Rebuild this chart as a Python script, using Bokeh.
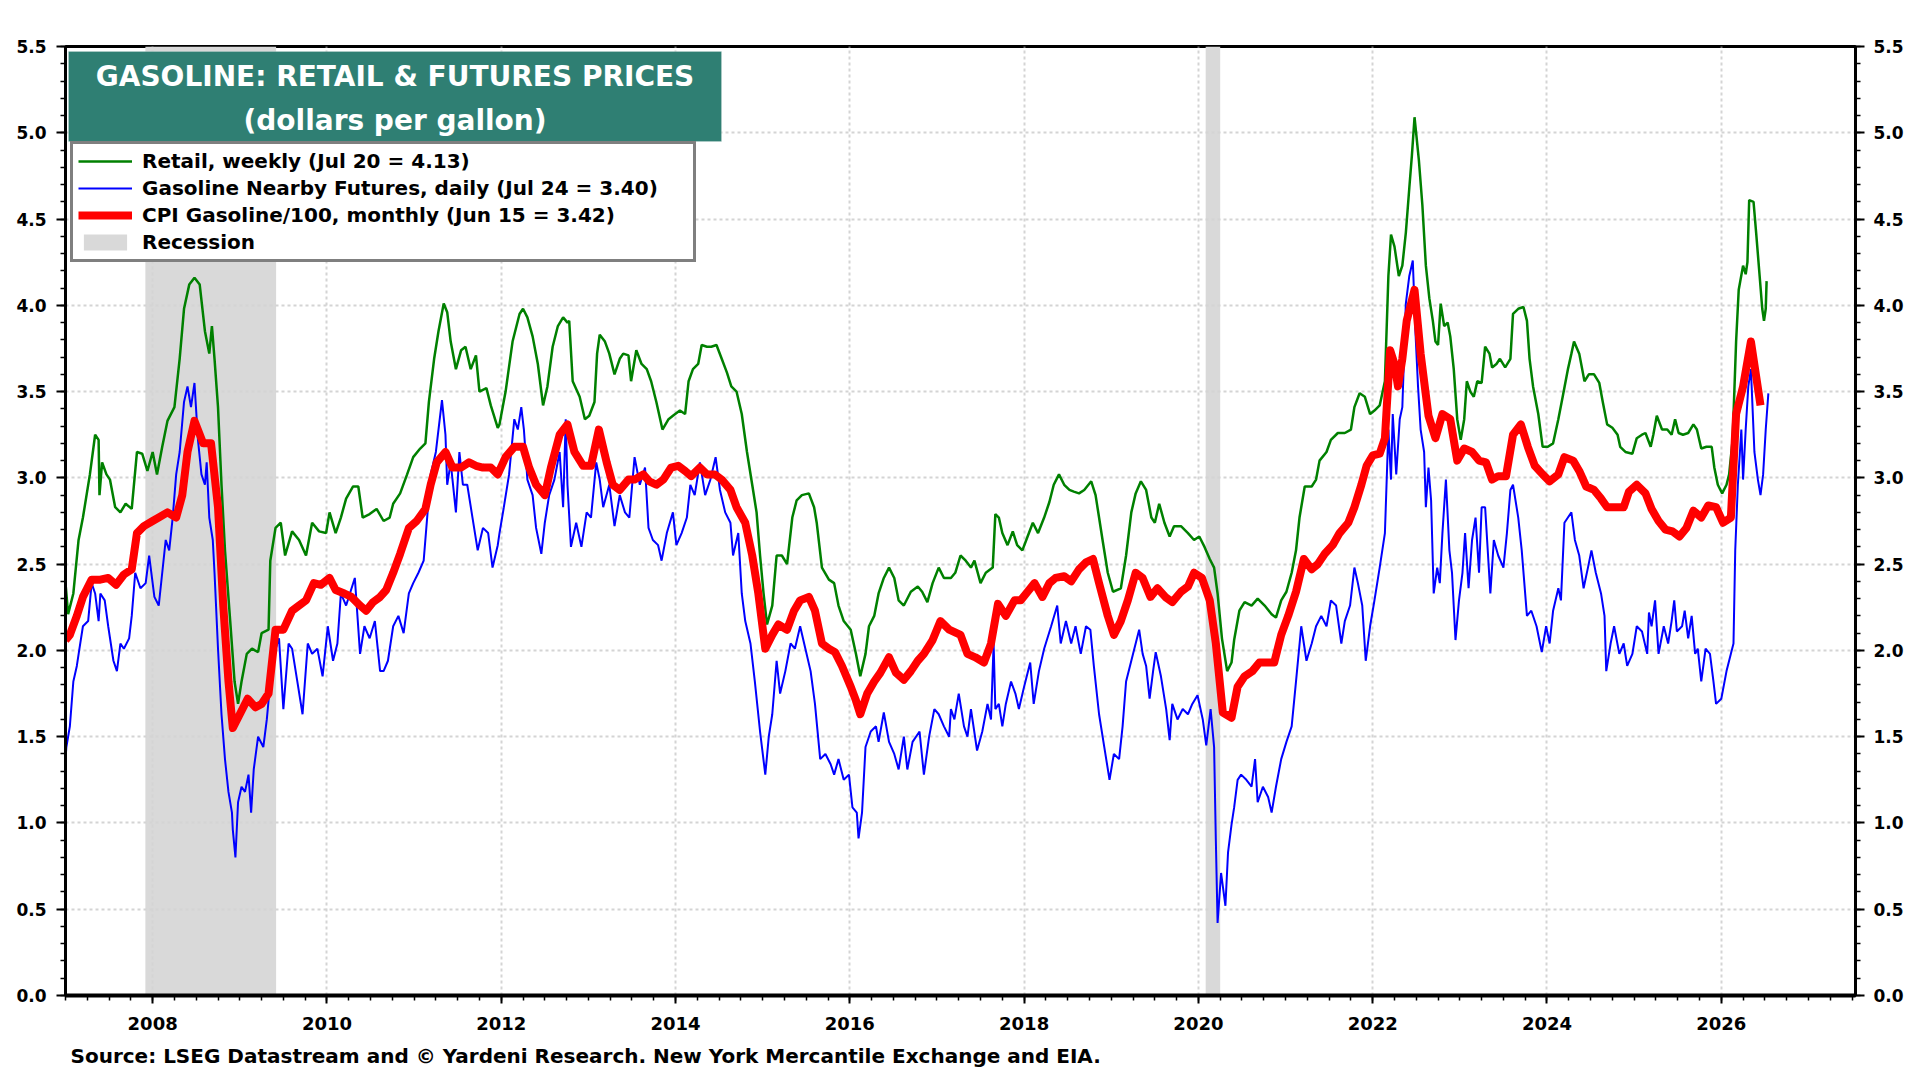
from bokeh.plotting import figure
from bokeh.models import (FixedTicker, NumeralTickFormatter, LinearAxis, BoxAnnotation,
                          Label, Legend, LegendItem, Title)
from bokeh.embed import file_html
from bokeh.resources import INLINE

# ---------------- data (decimal year, dollars per gallon) ----------------
RETAIL_WEEKLY = [
    (2007.00, 2.39), (2007.03, 2.21), (2007.09, 2.33), (2007.15, 2.64), (2007.20, 2.77), (2007.28, 3.02),
    (2007.34, 3.25), (2007.38, 3.22), (2007.39, 2.90), (2007.42, 3.09), (2007.47, 3.02), (2007.51, 2.99),
    (2007.57, 2.83), (2007.63, 2.80), (2007.69, 2.85), (2007.76, 2.82), (2007.82, 3.15), (2007.88, 3.14),
    (2007.94, 3.04), (2008.00, 3.15), (2008.05, 3.02), (2008.11, 3.18), (2008.17, 3.33), (2008.25, 3.41),
    (2008.31, 3.69), (2008.36, 3.98), (2008.42, 4.12), (2008.48, 4.16), (2008.54, 4.12), (2008.60, 3.85),
    (2008.65, 3.72), (2008.68, 3.88), (2008.71, 3.69), (2008.75, 3.41), (2008.79, 2.96), (2008.83, 2.58),
    (2008.89, 2.17), (2008.94, 1.82), (2008.98, 1.69), (2009.02, 1.82), (2009.08, 1.98), (2009.14, 2.01),
    (2009.21, 1.99), (2009.25, 2.10), (2009.33, 2.12), (2009.35, 2.52), (2009.41, 2.71), (2009.47, 2.74),
    (2009.52, 2.55), (2009.60, 2.69), (2009.68, 2.64), (2009.76, 2.55), (2009.83, 2.74), (2009.91, 2.69),
    (2009.99, 2.68), (2010.03, 2.80), (2010.10, 2.68), (2010.16, 2.77), (2010.22, 2.88), (2010.30, 2.95),
    (2010.36, 2.95), (2010.41, 2.77), (2010.49, 2.79), (2010.57, 2.82), (2010.65, 2.75), (2010.72, 2.77),
    (2010.76, 2.85), (2010.84, 2.91), (2010.92, 3.02), (2010.99, 3.12), (2011.07, 3.17), (2011.13, 3.20),
    (2011.17, 3.44), (2011.23, 3.69), (2011.28, 3.85), (2011.34, 4.01), (2011.38, 3.96), (2011.42, 3.79),
    (2011.48, 3.63), (2011.54, 3.74), (2011.59, 3.76), (2011.65, 3.63), (2011.71, 3.71), (2011.75, 3.50),
    (2011.83, 3.52), (2011.88, 3.42), (2011.96, 3.29),
    (2011.98, 3.31), (2012.05, 3.50), (2012.13, 3.79), (2012.21, 3.95), (2012.25, 3.98), (2012.30, 3.93),
    (2012.36, 3.82), (2012.42, 3.66), (2012.48, 3.42), (2012.53, 3.53), (2012.59, 3.76), (2012.65, 3.88),
    (2012.71, 3.93), (2012.76, 3.90), (2012.78, 3.91), (2012.82, 3.56), (2012.90, 3.47), (2012.96, 3.34),
    (2013.01, 3.36), (2013.07, 3.44), (2013.10, 3.72), (2013.13, 3.83), (2013.19, 3.79), (2013.24, 3.72),
    (2013.30, 3.60), (2013.36, 3.69), (2013.40, 3.72), (2013.46, 3.71), (2013.49, 3.56), (2013.55, 3.74),
    (2013.61, 3.66), (2013.67, 3.63), (2013.72, 3.56), (2013.78, 3.44), (2013.85, 3.28), (2013.92, 3.34),
    (2013.97, 3.36), (2014.05, 3.39), (2014.11, 3.37), (2014.15, 3.56), (2014.20, 3.63), (2014.26, 3.66),
    (2014.30, 3.77), (2014.36, 3.76), (2014.41, 3.76), (2014.47, 3.77), (2014.53, 3.69), (2014.59, 3.61),
    (2014.64, 3.53), (2014.70, 3.50), (2014.76, 3.37), (2014.82, 3.15), (2014.88, 2.96), (2014.93, 2.80),
    (2014.97, 2.55), (2015.01, 2.33), (2015.05, 2.15), (2015.11, 2.26), (2015.16, 2.55), (2015.22, 2.55),
    (2015.28, 2.50), (2015.34, 2.77), (2015.39, 2.87), (2015.45, 2.90), (2015.53, 2.91), (2015.59, 2.83),
    (2015.62, 2.74), (2015.68, 2.48), (2015.76, 2.41), (2015.82, 2.39), (2015.87, 2.26), (2015.93, 2.17),
    (2016.01, 2.12), (2016.07, 1.98), (2016.12, 1.85), (2016.18, 1.98), (2016.22, 2.14), (2016.28, 2.20),
    (2016.33, 2.33), (2016.39, 2.42), (2016.45, 2.48), (2016.51, 2.42), (2016.56, 2.29), (2016.62, 2.26),
    (2016.70, 2.34), (2016.78, 2.37), (2016.83, 2.34), (2016.89, 2.28), (2016.95, 2.39), (2017.02, 2.48),
    (2017.08, 2.42),
    (2017.16, 2.42), (2017.21, 2.45), (2017.27, 2.55), (2017.33, 2.52), (2017.39, 2.48), (2017.43, 2.52),
    (2017.50, 2.39), (2017.56, 2.45), (2017.64, 2.48), (2017.67, 2.79), (2017.71, 2.77), (2017.75, 2.68),
    (2017.81, 2.61), (2017.87, 2.69), (2017.92, 2.61), (2017.98, 2.58), (2018.04, 2.66), (2018.10, 2.74),
    (2018.16, 2.68), (2018.23, 2.77), (2018.29, 2.86), (2018.34, 2.96), (2018.40, 3.02), (2018.46, 2.96),
    (2018.52, 2.93), (2018.57, 2.92), (2018.63, 2.91), (2018.69, 2.93), (2018.77, 2.98), (2018.82, 2.90),
    (2018.86, 2.77), (2018.90, 2.64), (2018.96, 2.45), (2019.02, 2.34), (2019.11, 2.36), (2019.17, 2.55),
    (2019.23, 2.80), (2019.28, 2.91), (2019.34, 2.98), (2019.40, 2.93), (2019.46, 2.77), (2019.50, 2.74),
    (2019.55, 2.85), (2019.61, 2.74), (2019.67, 2.66), (2019.72, 2.72), (2019.80, 2.72), (2019.88, 2.68),
    (2019.95, 2.64), (2020.01, 2.66), (2020.07, 2.60), (2020.13, 2.53), (2020.18, 2.48), (2020.22, 2.33),
    (2020.27, 2.07), (2020.33, 1.88), (2020.38, 1.93), (2020.41, 2.06), (2020.47, 2.23), (2020.53, 2.28),
    (2020.61, 2.26), (2020.68, 2.30), (2020.76, 2.26), (2020.84, 2.21), (2020.89, 2.19), (2020.95, 2.29),
    (2021.01, 2.34), (2021.07, 2.45), (2021.12, 2.58), (2021.16, 2.77), (2021.22, 2.95), (2021.30, 2.95),
    (2021.35, 2.99), (2021.39, 3.10), (2021.47, 3.15), (2021.52, 3.22), (2021.60, 3.26), (2021.68, 3.26),
    (2021.75, 3.28), (2021.79, 3.41), (2021.85, 3.49), (2021.91, 3.47), (2021.97, 3.37), (2022.02, 3.39),
    (2022.08, 3.42), (2022.14, 3.56), (2022.18, 4.17), (2022.21, 4.41), (2022.25, 4.34), (2022.30, 4.17),
    (2022.34, 4.23), (2022.38, 4.42), (2022.42, 4.68), (2022.45, 4.87), (2022.48, 5.09), (2022.50, 4.99),
    (2022.53, 4.84), (2022.57, 4.58), (2022.61, 4.23), (2022.65, 4.04), (2022.69, 3.91), (2022.72, 3.79),
    (2022.75, 3.77), (2022.78, 4.01), (2022.82, 3.88), (2022.86, 3.90), (2022.89, 3.82), (2022.93, 3.63),
    (2022.97, 3.34), (2023.01, 3.22), (2023.05, 3.34), (2023.08, 3.56), (2023.12, 3.50), (2023.16, 3.47),
    (2023.20, 3.56), (2023.25, 3.55), (2023.29, 3.76), (2023.34, 3.72), (2023.37, 3.64), (2023.42, 3.66),
    (2023.46, 3.69), (2023.52, 3.64), (2023.58, 3.69), (2023.61, 3.95), (2023.67, 3.98), (2023.73, 3.99),
    (2023.77, 3.91), (2023.80, 3.69), (2023.84, 3.53), (2023.90, 3.37), (2023.95, 3.18), (2024.01, 3.18),
    (2024.07, 3.20), (2024.13, 3.34), (2024.18, 3.47), (2024.24, 3.63), (2024.28, 3.72), (2024.31, 3.79),
    (2024.37, 3.72), (2024.43, 3.56), (2024.48, 3.60), (2024.54, 3.60), (2024.60, 3.55), (2024.64, 3.44),
    (2024.69, 3.31), (2024.75, 3.29), (2024.81, 3.25), (2024.84, 3.18), (2024.90, 3.15), (2024.98, 3.14),
    (2025.03, 3.23), (2025.09, 3.25), (2025.13, 3.26), (2025.19, 3.18), (2025.22, 3.25), (2025.26, 3.36),
    (2025.32, 3.28), (2025.38, 3.28), (2025.43, 3.25), (2025.47, 3.34), (2025.51, 3.26), (2025.56, 3.25),
    (2025.62, 3.26), (2025.68, 3.31), (2025.72, 3.28), (2025.77, 3.17), (2025.83, 3.18), (2025.89, 3.18),
    (2025.92, 3.06), (2025.96, 2.96), (2026.01, 2.91), (2026.06, 2.96), (2026.09, 3.02), (2026.13, 3.22),
    (2026.17, 3.79), (2026.20, 4.09), (2026.25, 4.23), (2026.28, 4.18), (2026.30, 4.25), (2026.32, 4.61),
    (2026.37, 4.60), (2026.40, 4.42), (2026.44, 4.17), (2026.47, 3.98), (2026.49, 3.91), (2026.51, 3.98),
    (2026.52, 4.14),
]

FUTURES_DAILY = [
    (2007.00, 1.37), (2007.01, 1.44), (2007.05, 1.56), (2007.09, 1.82), (2007.13, 1.91), (2007.16, 2.01),
    (2007.20, 2.14), (2007.26, 2.17), (2007.30, 2.39), (2007.34, 2.33), (2007.38, 2.17), (2007.40, 2.33),
    (2007.45, 2.29), (2007.49, 2.14), (2007.55, 1.94), (2007.59, 1.88), (2007.63, 2.04), (2007.67, 2.01),
    (2007.73, 2.07), (2007.76, 2.20), (2007.80, 2.45), (2007.86, 2.36), (2007.92, 2.39), (2007.96, 2.55),
    (2008.02, 2.31), (2008.07, 2.26), (2008.11, 2.45), (2008.15, 2.64), (2008.19, 2.58), (2008.23, 2.77),
    (2008.27, 3.02), (2008.31, 3.15), (2008.36, 3.44), (2008.40, 3.53), (2008.44, 3.41), (2008.48, 3.55),
    (2008.52, 3.22), (2008.56, 3.02), (2008.60, 2.96), (2008.62, 3.09), (2008.65, 2.77), (2008.69, 2.64),
    (2008.71, 2.45), (2008.75, 2.01), (2008.79, 1.63), (2008.83, 1.37), (2008.87, 1.18), (2008.91, 1.06),
    (2008.92, 0.96), (2008.95, 0.80), (2008.98, 1.12), (2009.02, 1.21), (2009.06, 1.18), (2009.10, 1.28),
    (2009.13, 1.06), (2009.16, 1.31), (2009.21, 1.50), (2009.27, 1.44), (2009.31, 1.60), (2009.35, 1.82),
    (2009.41, 2.01), (2009.45, 2.07), (2009.50, 1.66), (2009.56, 2.04), (2009.60, 2.01), (2009.66, 1.82),
    (2009.72, 1.63), (2009.78, 2.04), (2009.83, 1.98), (2009.89, 2.01), (2009.95, 1.85), (2010.01, 2.14),
    (2010.07, 1.94), (2010.12, 2.04), (2010.16, 2.33), (2010.22, 2.26), (2010.32, 2.42), (2010.38, 1.98),
    (2010.43, 2.14), (2010.49, 2.07), (2010.55, 2.17), (2010.61, 1.88), (2010.65, 1.88), (2010.70, 1.94),
    (2010.76, 2.14), (2010.82, 2.20), (2010.88, 2.10), (2010.94, 2.33), (2010.99, 2.39), (2011.05, 2.45),
    (2011.11, 2.52), (2011.15, 2.77), (2011.19, 3.02), (2011.25, 3.15), (2011.28, 3.28), (2011.32, 3.45),
    (2011.36, 3.25), (2011.38, 2.96), (2011.42, 3.09), (2011.48, 2.80), (2011.52, 3.15), (2011.56, 2.96),
    (2011.61, 2.96), (2011.67, 2.77), (2011.73, 2.58), (2011.79, 2.71), (2011.85, 2.68), (2011.90, 2.48),
    (2011.96, 2.61),
    (2011.98, 2.68), (2012.03, 2.83), (2012.09, 3.02), (2012.15, 3.34), (2012.19, 3.28), (2012.23, 3.41),
    (2012.26, 3.28), (2012.30, 2.99), (2012.36, 2.90), (2012.40, 2.71), (2012.46, 2.56), (2012.50, 2.74),
    (2012.55, 2.90), (2012.61, 2.99), (2012.67, 3.15), (2012.71, 2.83), (2012.74, 3.34), (2012.76, 2.96),
    (2012.80, 2.60), (2012.86, 2.74), (2012.92, 2.60), (2012.98, 2.80), (2013.03, 2.77), (2013.09, 3.09),
    (2013.13, 2.99), (2013.17, 2.83), (2013.24, 2.96), (2013.30, 2.72), (2013.36, 2.90), (2013.42, 2.80),
    (2013.47, 2.77), (2013.53, 3.12), (2013.59, 2.96), (2013.65, 3.06), (2013.69, 2.71), (2013.74, 2.64),
    (2013.80, 2.61), (2013.84, 2.52), (2013.90, 2.68), (2013.97, 2.80), (2014.01, 2.61), (2014.07, 2.68),
    (2014.13, 2.77), (2014.17, 2.96), (2014.22, 2.90), (2014.28, 3.09), (2014.34, 2.90), (2014.40, 2.99),
    (2014.46, 3.12), (2014.51, 2.93), (2014.57, 2.80), (2014.63, 2.74), (2014.66, 2.55), (2014.72, 2.68),
    (2014.76, 2.33), (2014.80, 2.17), (2014.86, 2.04), (2014.91, 1.82), (2014.97, 1.53), (2015.03, 1.28),
    (2015.07, 1.50), (2015.11, 1.63), (2015.16, 1.94), (2015.20, 1.75), (2015.26, 1.88), (2015.32, 2.04),
    (2015.37, 2.01), (2015.43, 2.14), (2015.49, 2.01), (2015.55, 1.88), (2015.60, 1.69), (2015.66, 1.37),
    (2015.72, 1.40), (2015.78, 1.34), (2015.82, 1.28), (2015.87, 1.37), (2015.93, 1.25), (2015.99, 1.28),
    (2016.03, 1.09), (2016.08, 1.06), (2016.10, 0.91), (2016.14, 1.06), (2016.18, 1.44), (2016.24, 1.53),
    (2016.30, 1.56), (2016.33, 1.47), (2016.39, 1.64), (2016.45, 1.47), (2016.51, 1.40), (2016.56, 1.31),
    (2016.62, 1.50), (2016.66, 1.31), (2016.72, 1.47), (2016.80, 1.53), (2016.85, 1.28), (2016.91, 1.50),
    (2016.97, 1.66), (2017.02, 1.63), (2017.08, 1.56), (2017.14, 1.50),
    (2017.16, 1.66), (2017.20, 1.60), (2017.25, 1.75), (2017.31, 1.56), (2017.35, 1.50), (2017.39, 1.66),
    (2017.46, 1.42), (2017.52, 1.53), (2017.58, 1.69), (2017.62, 1.60), (2017.65, 2.04), (2017.67, 1.66),
    (2017.71, 1.69), (2017.75, 1.56), (2017.79, 1.69), (2017.85, 1.82), (2017.90, 1.75), (2017.94, 1.66),
    (2018.00, 1.79), (2018.07, 1.93), (2018.11, 1.69), (2018.17, 1.88), (2018.23, 2.01), (2018.31, 2.14),
    (2018.38, 2.26), (2018.42, 2.04), (2018.48, 2.17), (2018.54, 2.04), (2018.59, 2.14), (2018.65, 1.98),
    (2018.71, 2.14), (2018.76, 2.12), (2018.80, 1.91), (2018.86, 1.63), (2018.92, 1.44), (2018.98, 1.25),
    (2019.03, 1.40), (2019.09, 1.37), (2019.13, 1.56), (2019.17, 1.82), (2019.23, 1.94), (2019.28, 2.04),
    (2019.32, 2.12), (2019.36, 1.98), (2019.40, 1.91), (2019.44, 1.72), (2019.48, 1.88), (2019.51, 1.99),
    (2019.57, 1.85), (2019.63, 1.66), (2019.67, 1.48), (2019.70, 1.69), (2019.76, 1.60), (2019.82, 1.66),
    (2019.88, 1.63), (2019.93, 1.69), (2019.99, 1.74), (2020.05, 1.60), (2020.09, 1.45), (2020.14, 1.66),
    (2020.18, 1.44), (2020.20, 0.90), (2020.22, 0.42), (2020.26, 0.71), (2020.31, 0.52), (2020.34, 0.83),
    (2020.38, 0.99), (2020.41, 1.09), (2020.45, 1.25), (2020.49, 1.28), (2020.55, 1.25), (2020.61, 1.21),
    (2020.65, 1.37), (2020.68, 1.12), (2020.74, 1.21), (2020.80, 1.15), (2020.84, 1.06), (2020.89, 1.21),
    (2020.95, 1.37), (2021.01, 1.47), (2021.07, 1.56), (2021.12, 1.82), (2021.18, 2.14), (2021.24, 1.94),
    (2021.30, 2.04), (2021.35, 2.14), (2021.41, 2.20), (2021.47, 2.14), (2021.52, 2.29), (2021.58, 2.26),
    (2021.64, 2.04), (2021.68, 2.17), (2021.74, 2.26), (2021.79, 2.48), (2021.83, 2.39), (2021.88, 2.26),
    (2021.92, 1.94), (2021.97, 2.14), (2022.02, 2.29), (2022.08, 2.48), (2022.14, 2.68), (2022.18, 3.28),
    (2022.21, 2.99), (2022.23, 3.37), (2022.27, 3.02), (2022.31, 3.34),
    (2022.34, 3.41), (2022.38, 4.01), (2022.42, 4.17), (2022.46, 4.26), (2022.49, 3.85), (2022.52, 3.53),
    (2022.55, 3.28), (2022.59, 3.15), (2022.61, 2.83), (2022.64, 3.06), (2022.67, 2.87), (2022.70, 2.33),
    (2022.74, 2.48), (2022.77, 2.39), (2022.80, 2.68), (2022.84, 2.99), (2022.88, 2.58), (2022.91, 2.45),
    (2022.95, 2.06), (2022.99, 2.29), (2023.03, 2.45), (2023.06, 2.68), (2023.10, 2.36), (2023.14, 2.64),
    (2023.18, 2.77), (2023.22, 2.45), (2023.25, 2.83), (2023.29, 2.83), (2023.35, 2.33), (2023.39, 2.64),
    (2023.44, 2.55), (2023.50, 2.48), (2023.54, 2.68), (2023.58, 2.93), (2023.61, 2.96), (2023.67, 2.77),
    (2023.71, 2.58), (2023.77, 2.20), (2023.82, 2.23), (2023.88, 2.14), (2023.94, 1.99), (2023.99, 2.14),
    (2024.03, 2.04), (2024.07, 2.23), (2024.13, 2.36), (2024.16, 2.29), (2024.20, 2.74), (2024.24, 2.77),
    (2024.28, 2.80), (2024.32, 2.64), (2024.37, 2.55), (2024.42, 2.36), (2024.47, 2.48), (2024.51, 2.58),
    (2024.56, 2.45), (2024.62, 2.33), (2024.66, 2.20), (2024.68, 1.88), (2024.73, 2.04), (2024.77, 2.14),
    (2024.83, 1.98), (2024.88, 2.04), (2024.92, 1.91), (2024.98, 1.98), (2025.03, 2.14), (2025.09, 2.11),
    (2025.15, 1.98), (2025.17, 2.22), (2025.20, 2.14), (2025.24, 2.29), (2025.28, 1.98), (2025.34, 2.14),
    (2025.39, 2.04), (2025.43, 2.17), (2025.46, 2.29), (2025.49, 2.11), (2025.55, 2.14), (2025.58, 2.23),
    (2025.62, 2.07), (2025.66, 2.20), (2025.70, 1.98), (2025.73, 2.01), (2025.77, 1.82), (2025.82, 2.01),
    (2025.87, 1.98), (2025.91, 1.82), (2025.94, 1.69), (2026.00, 1.72), (2026.06, 1.88), (2026.11, 1.98),
    (2026.14, 2.04), (2026.16, 2.58), (2026.19, 2.96), (2026.23, 3.28), (2026.25, 2.99), (2026.28, 3.28),
    (2026.31, 3.53), (2026.34, 3.63), (2026.38, 3.15), (2026.42, 2.99), (2026.45, 2.90), (2026.48, 3.02),
    (2026.51, 3.28), (2026.54, 3.49),
]

CPI_MONTHLY = [
    (2007.00, 2.06), (2007.05, 2.09), (2007.13, 2.20), (2007.20, 2.31), (2007.30, 2.41), (2007.40, 2.41),
    (2007.49, 2.42), (2007.58, 2.38), (2007.67, 2.44), (2007.76, 2.47), (2007.82, 2.68), (2007.90, 2.72),
    (2008.00, 2.75), (2008.07, 2.77), (2008.17, 2.80), (2008.27, 2.77), (2008.34, 2.90), (2008.40, 3.15),
    (2008.48, 3.33), (2008.58, 3.20), (2008.67, 3.20), (2008.75, 2.83), (2008.81, 2.26), (2008.87, 1.82),
    (2008.92, 1.55), (2009.00, 1.63), (2009.09, 1.72), (2009.18, 1.67), (2009.25, 1.69), (2009.33, 1.75),
    (2009.41, 2.12), (2009.50, 2.12), (2009.60, 2.23), (2009.68, 2.26), (2009.76, 2.29), (2009.85, 2.39),
    (2009.93, 2.38), (2010.03, 2.42), (2010.10, 2.35), (2010.20, 2.33), (2010.28, 2.31), (2010.38, 2.26),
    (2010.45, 2.23), (2010.53, 2.28), (2010.61, 2.31), (2010.68, 2.35), (2010.76, 2.45), (2010.84, 2.56),
    (2010.94, 2.71), (2011.03, 2.75), (2011.13, 2.82), (2011.19, 2.96), (2011.26, 3.09), (2011.36, 3.15),
    (2011.44, 3.06), (2011.54, 3.06), (2011.63, 3.09), (2011.71, 3.07), (2011.79, 3.06), (2011.88, 3.06),
    (2011.96, 3.02), (2012.05, 3.12), (2012.15, 3.18), (2012.25, 3.18), (2012.32, 3.06), (2012.40, 2.96),
    (2012.50, 2.90), (2012.57, 3.06), (2012.67, 3.25), (2012.76, 3.31), (2012.84, 3.15), (2012.94, 3.07),
    (2013.03, 3.07), (2013.12, 3.28), (2013.21, 3.09), (2013.28, 2.96), (2013.36, 2.93), (2013.46, 2.99),
    (2013.53, 2.99), (2013.63, 3.02), (2013.70, 2.98), (2013.78, 2.96), (2013.86, 2.99), (2013.95, 3.06),
    (2014.03, 3.07), (2014.11, 3.04), (2014.18, 3.01), (2014.28, 3.06), (2014.36, 3.02), (2014.45, 3.02),
    (2014.53, 2.99), (2014.63, 2.93), (2014.70, 2.83), (2014.80, 2.74), (2014.88, 2.55), (2014.95, 2.33),
    (2015.03, 2.01), (2015.11, 2.09), (2015.18, 2.15), (2015.28, 2.12), (2015.36, 2.23), (2015.43, 2.29),
    (2015.53, 2.31), (2015.60, 2.23), (2015.68, 2.04), (2015.76, 2.01), (2015.83, 1.99), (2015.91, 1.91),
    (2016.01, 1.79), (2016.07, 1.71), (2016.12, 1.63), (2016.20, 1.75), (2016.28, 1.82), (2016.35, 1.87),
    (2016.45, 1.96), (2016.53, 1.87), (2016.62, 1.83), (2016.70, 1.88), (2016.78, 1.94), (2016.85, 1.98),
    (2016.95, 2.06), (2017.04, 2.17), (2017.14, 2.12), (2017.27, 2.09), (2017.35, 1.98), (2017.44, 1.96),
    (2017.54, 1.93), (2017.62, 2.04), (2017.70, 2.27), (2017.79, 2.20), (2017.89, 2.29), (2017.96, 2.29),
    (2018.04, 2.34), (2018.12, 2.39), (2018.21, 2.31), (2018.29, 2.39), (2018.36, 2.42), (2018.46, 2.43),
    (2018.54, 2.40), (2018.63, 2.47), (2018.71, 2.51), (2018.79, 2.53), (2018.86, 2.39), (2018.96, 2.20),
    (2019.03, 2.09), (2019.11, 2.17), (2019.19, 2.29), (2019.28, 2.45), (2019.36, 2.42), (2019.45, 2.31),
    (2019.53, 2.36), (2019.62, 2.31), (2019.70, 2.28), (2019.80, 2.34), (2019.88, 2.37), (2019.95, 2.45),
    (2020.04, 2.42), (2020.13, 2.29), (2020.20, 2.04), (2020.28, 1.64), (2020.38, 1.61), (2020.45, 1.79),
    (2020.53, 1.85), (2020.62, 1.88), (2020.70, 1.93), (2020.80, 1.93), (2020.87, 1.93), (2020.95, 2.09),
    (2021.03, 2.20), (2021.12, 2.34), (2021.21, 2.53), (2021.30, 2.47), (2021.37, 2.50), (2021.45, 2.56),
    (2021.54, 2.61), (2021.62, 2.68), (2021.72, 2.74), (2021.79, 2.83), (2021.87, 2.96), (2021.93, 3.07),
    (2022.00, 3.13), (2022.08, 3.14), (2022.14, 3.23), (2022.20, 3.74), (2022.25, 3.66), (2022.29, 3.53),
    (2022.34, 3.69), (2022.39, 3.91), (2022.48, 4.09), (2022.55, 3.72), (2022.64, 3.36), (2022.72, 3.23),
    (2022.80, 3.37), (2022.89, 3.34), (2022.97, 3.10), (2023.05, 3.17), (2023.14, 3.15), (2023.22, 3.10),
    (2023.30, 3.09), (2023.37, 2.99), (2023.44, 3.01), (2023.53, 3.01), (2023.61, 3.25), (2023.70, 3.31),
    (2023.78, 3.18), (2023.86, 3.07), (2023.95, 3.02), (2024.03, 2.98), (2024.13, 3.02), (2024.20, 3.12),
    (2024.30, 3.10), (2024.37, 3.04), (2024.45, 2.95), (2024.54, 2.93), (2024.62, 2.88), (2024.69, 2.83),
    (2024.79, 2.83), (2024.88, 2.83), (2024.94, 2.92), (2025.03, 2.96), (2025.13, 2.91), (2025.20, 2.82),
    (2025.28, 2.75), (2025.36, 2.70), (2025.44, 2.69), (2025.52, 2.66), (2025.60, 2.71), (2025.68, 2.81),
    (2025.77, 2.77), (2025.85, 2.84), (2025.94, 2.83), (2026.02, 2.74), (2026.11, 2.77), (2026.17, 3.37),
    (2026.25, 3.53), (2026.34, 3.79), (2026.45, 3.42),
]

RECESSION_START = ["2007-12", "2020-02"]
RECESSION_END = ["2009-06", "2020-04"]

Y_TICKS = [0.0, 0.5, 1.0, 1.5, 2.0, 2.5, 3.0, 3.5, 4.0, 4.5, 5.0, 5.5]
X_TICKS = [2008, 2010, 2012, 2014, 2016, 2018, 2020, 2022, 2024, 2026]

TITLE_LINE_1 = "GASOLINE: RETAIL & FUTURES PRICES"
TITLE_LINE_2 = "(dollars per gallon)"
LEGEND_LABELS = [
    "Retail, weekly (Jul 20 = 4.13)",
    "Gasoline Nearby Futures, daily (Jul 24 = 3.40)",
    "CPI Gasoline/100, monthly (Jun 15 = 3.42)",
    "Recession",
]
SOURCE = "Source: LSEG Datastream and \u00a9 Yardeni Research. New York Mercantile Exchange and EIA."

# ---------------- layout (page pixels) ----------------
X_START, X_END = 2007.0, 2027.54
Y_START, Y_END = 0.0, 5.5
W, H = 1915, 1078
BL, BT = 65, 46
FRAME_RIGHT, FRAME_BOTTOM = 1855, 995
BR, BB = W - FRAME_RIGHT, H - FRAME_BOTTOM
FRAME_W = FRAME_RIGHT - BL
FRAME_H = FRAME_BOTTOM - BT
FONT = "DejaVu Sans"


def px_x(px):
    """page pixel x -> data x"""
    return X_START + (px - BL) / FRAME_W * (X_END - X_START)


def px_y(py):
    """page pixel y -> data y"""
    return Y_END - (py - BT) / FRAME_H * (Y_END - Y_START)


def ym(s):
    y, m = s.split("-")
    return int(y) + (int(m) - 1) / 12.0


retail_t, retail_v = map(list, zip(*RETAIL_WEEKLY))
fut_t, fut_v = map(list, zip(*FUTURES_DAILY))
cpi_t, cpi_v = map(list, zip(*CPI_MONTHLY))
rec_l = [ym(s) for s in RECESSION_START]
rec_r = [ym(s) for s in RECESSION_END]

p = figure(width=W, height=H, x_range=(X_START, X_END), y_range=(Y_START, Y_END),
           output_backend="svg", toolbar_location=None,
           min_border_left=BL, min_border_right=BR, min_border_top=BT, min_border_bottom=BB)
p.background_fill_color = "white"
p.border_fill_color = "white"
p.outline_line_color = "black"
p.outline_line_width = 3

y_ticker = FixedTicker(ticks=Y_TICKS, minor_ticks=[i / 10 for i in range(0, 56)])
x_ticker = FixedTicker(ticks=X_TICKS, minor_ticks=[2007 + q / 4 for q in range(0, 83)])

# axes
p.yaxis[0].ticker = y_ticker
right = LinearAxis(ticker=y_ticker)
p.add_layout(right, "right")
for ax in [p.yaxis[0], right]:
    ax.formatter = NumeralTickFormatter(format="0.0")
    ax.axis_line_width = 3
    ax.axis_line_color = "black"
    ax.major_tick_out = 9
    ax.major_tick_in = 0
    ax.minor_tick_out = 5
    ax.minor_tick_in = 0
    ax.major_tick_line_width = 2
    ax.minor_tick_line_width = 1.5
    ax.major_label_text_font = FONT
    ax.major_label_text_font_style = "bold"
    ax.major_label_text_font_size = "17px"
    ax.major_label_text_color = "black"
p.yaxis[0].major_label_standoff = 10
right.major_label_standoff = 9

xa = p.xaxis[0]
xa.ticker = x_ticker
xa.formatter = NumeralTickFormatter(format="0")
xa.axis_line_width = 4
xa.axis_line_color = "black"
xa.major_tick_out = 8
xa.major_tick_in = 0
xa.minor_tick_out = 5
xa.minor_tick_in = 0
xa.major_tick_line_width = 2
xa.minor_tick_line_width = 1.5
xa.major_label_text_font = FONT
xa.major_label_text_font_style = "bold"
xa.major_label_text_font_size = "18px"
xa.major_label_text_color = "black"
xa.major_label_standoff = 13

for g in (p.xgrid[0], p.ygrid[0]):
    g.grid_line_color = "#d4d4d4"
    g.grid_line_dash = "3 3"
    g.grid_line_width = 2

# recession shading
r_rec = p.quad(left=rec_l, right=rec_r, bottom=Y_START, top=Y_END,
               fill_color="#d9d9d9", line_color=None, level="image")

# series
r_ret = p.line(retail_t, retail_v, line_color="#008000", line_width=2.5)
r_fut = p.line(fut_t, fut_v, line_color="#0000ff", line_width=2)
r_cpi = p.line(cpi_t, cpi_v, line_color="#ff0000", line_width=8, line_join="round")

# title box
p.add_layout(BoxAnnotation(left=px_x(68), right=px_x(721), top=px_y(51), bottom=px_y(141),
                           fill_color="#2f7f73", fill_alpha=1.0, line_color="#d6e6e2",
                           line_width=1, level="annotation"))
for txt, yb in ((TITLE_LINE_1, 76), (TITLE_LINE_2, 120)):
    p.add_layout(Label(x=px_x(394.5), y=px_y(yb), text=txt, text_align="center",
                       text_baseline="alphabetic", text_color="white", text_font=FONT,
                       text_font_style="bold", text_font_size="28px"))

legend = Legend(items=[LegendItem(label=LEGEND_LABELS[0], renderers=[r_ret]),
                       LegendItem(label=LEGEND_LABELS[1], renderers=[r_fut]),
                       LegendItem(label=LEGEND_LABELS[2], renderers=[r_cpi]),
                       LegendItem(label=LEGEND_LABELS[3], renderers=[r_rec])],
                location=(5, FRAME_BOTTOM - 262), orientation="vertical",
                border_line_color="black", border_line_width=3,
                background_fill_color="white", background_fill_alpha=1.0,
                label_text_font=FONT, label_text_font_style="bold",
                label_text_font_size="20px", label_text_color="black",
                glyph_width=54, glyph_height=20, label_standoff=10,
                padding=5, spacing=3, margin=0, label_width=546, label_height=20)
p.add_layout(legend, "center")

source = Title(text=SOURCE, align="left", offset=5, standoff=18,
               text_font=FONT, text_font_style="bold", text_font_size="20px",
               text_color="black")
p.add_layout(source, "below")

open("out.html", "w").write(file_html(p, INLINE))
